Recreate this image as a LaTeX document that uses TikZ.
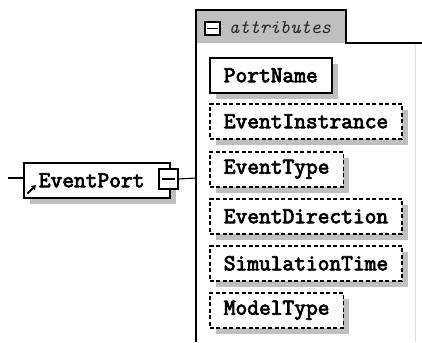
\documentclass[tikz,border=0pt]{standalone}
\usepackage{fontspec}
\setmonofont{Latin Modern Mono}[BoldFont=Latin Modern Mono,BoldFeatures={FakeBold=3.5}]
\usetikzlibrary{arrows.meta,shadows}

\begin{document}
\begin{tikzpicture}[x=1pt,y=-1pt,
  boxshadow/.style={drop shadow={shadow xshift=6pt,shadow yshift=-6pt,opacity=1,fill=black!25}},
  elem/.style={draw=black,line width=1.6pt,fill=white,anchor=north west,
    minimum height=35pt,inner xsep=14pt,inner ysep=0pt,boxshadow,
    font=\ttfamily\bfseries\fontsize{22.8}{22.8}\selectfont},
  optelem/.style={elem,dash pattern=on 4pt off 2.5pt},
  pmbox/.style={draw=black,line width=1.2pt,fill=white,inner sep=0pt},
  frame/.style={draw=black,line width=1.1pt},
  link/.style={draw=black,line width=1.1pt}
]
% canvas
\fill[white] (0,0) rectangle (422,342);
\useasboundingbox (0,0) rectangle (422,342);

% attribute group: tab and frame
\fill[black!25] (196,10) rectangle (346,43);
\draw[frame] (196,342) -- (196,10) -- (346,10) -- (346,43) -- (422,43);
\draw[black!12,line width=1pt] (415,44) -- (415,342);
\node[pmbox,minimum width=15pt,minimum height=13pt] (tabpm) at (212.5,28.5) {};
\draw[line width=1.1pt] ([xshift=3pt]tabpm.west) -- ([xshift=-3pt]tabpm.east);
\node[anchor=west,inner sep=0pt,text=black!85,
  font=\ttfamily\itshape\fontsize{19.4}{19.4}\selectfont] (tabtext) at (229,28) {attributes};

% the element and its expand box
\node[elem,minimum width=146pt,text width=116pt,inner xsep=15pt,align=left] (port) at (23,162) {EventPort};
\node[pmbox,minimum width=19pt,minimum height=20pt] (portpm) at (168.5,179) {};
\draw[line width=1.1pt] ([xshift=4pt]portpm.west) -- ([xshift=-4pt]portpm.east);
% reference marker
\draw[-{Triangle[length=4.5pt,width=5.5pt]},line width=1.8pt] (27.5,193.5) -- (36,185);

% connectors
\coordinate (lead) at (8,178);
\coordinate (grp) at (196,178);
\draw[link] (lead) -- (lead -| port.west);
\draw[link] (portpm.east) -- (grp);

% attributes
\node[elem]    (a1) at (209,57)  {PortName};
\node[optelem] (a2) at (209,103) {EventInstrance};
\node[optelem] (a3) at (209,151) {EventType};
\node[optelem] (a4) at (209,198) {EventDirection};
\node[optelem] (a5) at (209,245) {SimulationTime};
\node[optelem] (a6) at (209,292) {ModelType};
\end{tikzpicture}
\end{document}
